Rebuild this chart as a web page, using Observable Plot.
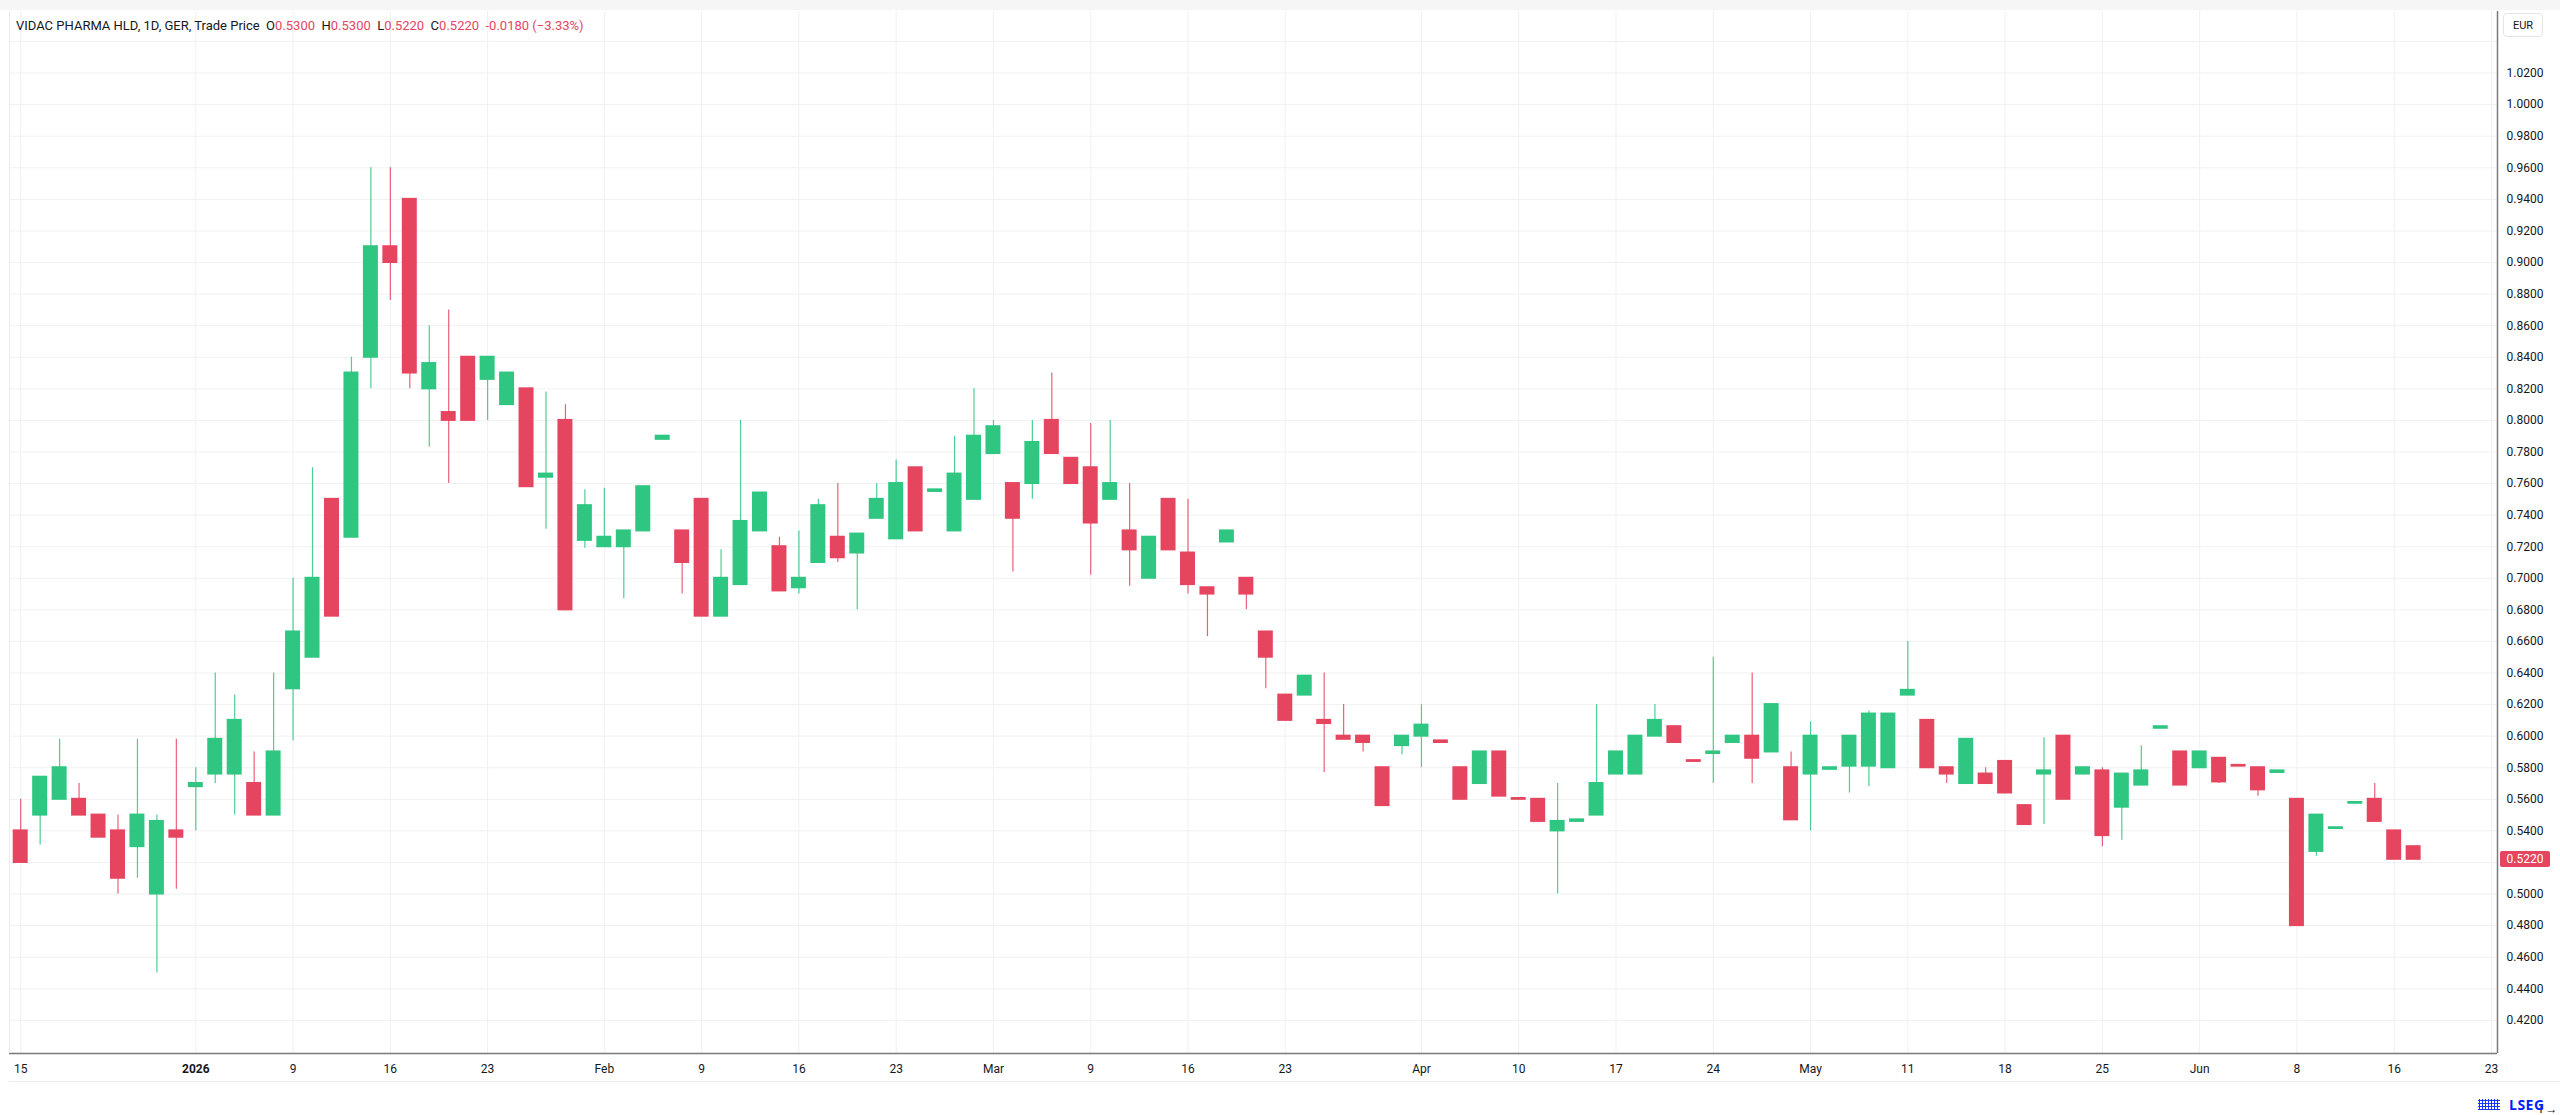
<!DOCTYPE html>
<html>
<head>
<meta charset="utf-8">
<script src="https://cdn.jsdelivr.net/npm/d3@7"></script>
<script src="https://cdn.jsdelivr.net/npm/@observablehq/plot@0.6"></script>
<style>
html, body { margin: 0; padding: 0; background: #fff; }
#wrap { position: relative; width: 2560px; height: 1115px; overflow: hidden; font-family: Roboto, "Noto Sans", sans-serif; background: #fff; }
#chart { position: absolute; left: 0; top: 0; }
#header { position: absolute; left: 16px; top: 18px; font-size: 13px; line-height: 16px; color: #131722; white-space: pre; }
#header .v { color: #e5455f; }
#eur { position: absolute; left: 2503px; top: 13px; width: 40px; height: 24px; border: 1px solid #e6e6e6; border-radius: 4px; font-size: 11px; line-height: 24px; text-align: center; color: #131722; box-sizing: border-box; }
#price { position: absolute; left: 2500px; width: 50px; height: 16px; background: #e5455f; color: #fff; font-size: 12px; line-height: 16px; text-align: center; border-radius: 2px; }
#logoicon { position: absolute; left: 2478px; top: 1099px; width: 22px; height: 11px; background-image: radial-gradient(circle, #001eff 55%, transparent 60%); background-size: 3px 3px; opacity: 0.9; }
#logotxt { position: absolute; left: 2509px; top: 1096px; font-family: "Open Sans", Roboto, sans-serif; font-weight: 700; font-size: 14px; line-height: 17px; color: #001eff; letter-spacing: 0.5px; white-space: nowrap; }
#topband { position: absolute; left: 0; top: 0; width: 2560px; height: 10px; background: #f6f6f6; }
#bottomline { position: absolute; left: 9px; top: 1081px; width: 2551px; height: 1px; background: #ececec; }
</style>
</head>
<body>
<div id="wrap">
  <div id="topband"></div>
  <div id="chart"></div>
  <div id="header"></div>
  <div id="eur">EUR</div>
  <div id="price"></div>
  <div id="bottomline"></div>
  <div id="logoicon"></div>
  <div id="logotxt">LSEG</div>
</div>
<script>
// ---- Data (daily candles, trading-day index 0 = 15 Dec 2025) ----
const opens = [
  0.54, 0.55, 0.56, 0.56, 0.55, 0.54, 0.53, 0.50, 0.54, 0.568,
  0.576, 0.576, 0.57, 0.55, 0.63, 0.65, 0.75, 0.726, 0.84, 0.91,
  0.94, 0.82, 0.805, 0.84, 0.826, 0.81, 0.82, 0.764, 0.80, 0.724,
  0.72, 0.72, 0.73, 0.788, 0.73, 0.75, 0.676, 0.696, 0.73, 0.72,
  0.694, 0.71, 0.726, 0.716, 0.738, 0.725, 0.77, 0.755, 0.73, 0.75,
  0.779, 0.76, 0.76, 0.80, 0.776, 0.77, 0.75, 0.73, 0.70, 0.75,
  0.716, 0.694, 0.723, 0.70, 0.666, 0.626, 0.626, 0.61, 0.60, 0.60,
  0.58, 0.594, 0.60, 0.597, 0.58, 0.57, 0.59, 0.5605, 0.56, 0.54,
  0.546, 0.55, 0.576, 0.576, 0.60, 0.606, 0.5845, 0.589, 0.596, 0.60,
  0.59, 0.58, 0.576, 0.579, 0.581, 0.581, 0.58, 0.626, 0.61, 0.58,
  0.57, 0.576, 0.584, 0.556, 0.576, 0.60, 0.576, 0.578, 0.555, 0.569,
  0.605, 0.59, 0.58, 0.586, 0.5815, 0.58, 0.577, 0.56, 0.527, 0.5415,
  0.5575, 0.56, 0.54, 0.53
];
const highs = [
  0.56, 0.574, 0.598, 0.57, 0.55, 0.55, 0.598, 0.55, 0.598, 0.58,
  0.64, 0.626, 0.59, 0.64, 0.70, 0.77, 0.75, 0.84, 0.96, 0.96,
  0.94, 0.86, 0.87, 0.84, 0.84, 0.83, 0.82, 0.818, 0.81, 0.756,
  0.757, 0.73, 0.758, 0.79, 0.73, 0.75, 0.718, 0.80, 0.754, 0.726,
  0.73, 0.75, 0.76, 0.728, 0.76, 0.775, 0.77, 0.756, 0.79, 0.82,
  0.80, 0.76, 0.80, 0.83, 0.776, 0.798, 0.80, 0.76, 0.726, 0.75,
  0.75, 0.694, 0.73, 0.70, 0.666, 0.626, 0.638, 0.64, 0.62, 0.60,
  0.58, 0.60, 0.62, 0.597, 0.58, 0.59, 0.59, 0.5605, 0.56, 0.57,
  0.547, 0.62, 0.59, 0.60, 0.62, 0.606, 0.5845, 0.65, 0.60, 0.64,
  0.62, 0.59, 0.609, 0.58, 0.60, 0.616, 0.614, 0.66, 0.61, 0.58,
  0.598, 0.58, 0.584, 0.556, 0.599, 0.60, 0.58, 0.58, 0.576, 0.594,
  0.606, 0.59, 0.59, 0.586, 0.5815, 0.58, 0.578, 0.56, 0.55, 0.542,
  0.558, 0.57, 0.54, 0.53
];
const lows = [
  0.52, 0.531, 0.56, 0.55, 0.536, 0.50, 0.51, 0.45, 0.503, 0.54,
  0.570, 0.55, 0.55, 0.55, 0.597, 0.65, 0.676, 0.726, 0.82, 0.876,
  0.82, 0.783, 0.76, 0.80, 0.80, 0.81, 0.758, 0.731, 0.68, 0.719,
  0.72, 0.687, 0.73, 0.788, 0.69, 0.676, 0.676, 0.696, 0.73, 0.692,
  0.69, 0.71, 0.71, 0.68, 0.738, 0.725, 0.73, 0.755, 0.73, 0.75,
  0.779, 0.704, 0.75, 0.779, 0.76, 0.702, 0.75, 0.695, 0.70, 0.718,
  0.69, 0.663, 0.723, 0.68, 0.63, 0.61, 0.626, 0.577, 0.598, 0.59,
  0.556, 0.588, 0.58, 0.596, 0.56, 0.57, 0.562, 0.56, 0.546, 0.50,
  0.546, 0.55, 0.576, 0.576, 0.60, 0.596, 0.584, 0.57, 0.596, 0.57,
  0.59, 0.547, 0.54, 0.579, 0.564, 0.568, 0.58, 0.626, 0.58, 0.57,
  0.57, 0.57, 0.564, 0.544, 0.544, 0.56, 0.576, 0.53, 0.534, 0.569,
  0.605, 0.569, 0.58, 0.57, 0.581, 0.562, 0.577, 0.48, 0.524, 0.5415,
  0.5575, 0.546, 0.522, 0.522
];
const closes = [
  0.52, 0.574, 0.58, 0.55, 0.536, 0.51, 0.55, 0.546, 0.536, 0.570,
  0.598, 0.61, 0.55, 0.59, 0.666, 0.70, 0.676, 0.83, 0.91, 0.90,
  0.83, 0.836, 0.80, 0.80, 0.84, 0.83, 0.758, 0.766, 0.68, 0.746,
  0.726, 0.73, 0.758, 0.79, 0.71, 0.676, 0.70, 0.736, 0.754, 0.692,
  0.70, 0.746, 0.713, 0.728, 0.75, 0.76, 0.73, 0.756, 0.766, 0.79,
  0.796, 0.738, 0.786, 0.779, 0.76, 0.735, 0.76, 0.718, 0.726, 0.718,
  0.696, 0.69, 0.73, 0.69, 0.65, 0.61, 0.638, 0.608, 0.598, 0.596,
  0.556, 0.60, 0.607, 0.596, 0.56, 0.59, 0.562, 0.56, 0.546, 0.546,
  0.547, 0.57, 0.59, 0.60, 0.61, 0.596, 0.584, 0.590, 0.60, 0.586,
  0.62, 0.547, 0.60, 0.58, 0.60, 0.614, 0.614, 0.629, 0.58, 0.576,
  0.598, 0.57, 0.564, 0.544, 0.578, 0.56, 0.58, 0.537, 0.576, 0.578,
  0.606, 0.569, 0.59, 0.571, 0.581, 0.566, 0.578, 0.48, 0.55, 0.542,
  0.558, 0.546, 0.522, 0.522
];

// x-axis ticks (trading-day index) and their labels
const xTickIndex  = [0, 9, 14, 19, 24, 30, 35, 40, 45, 50, 55, 60, 65, 72, 77, 82, 87, 92, 97, 102, 107, 112, 117, 122, 127];
const xTickLabels = ["15", "2026", "9", "16", "23", "Feb", "9", "16", "23", "Mar", "9", "16", "23", "Apr", "10", "17", "24", "May", "11", "18", "25", "Jun", "8", "16", "23"];
// y-axis grid and labelled ticks
const yGridValues = [0.42, 0.44, 0.46, 0.48, 0.50, 0.52, 0.54, 0.56, 0.58, 0.60, 0.62, 0.64, 0.66, 0.68, 0.70, 0.72, 0.74, 0.76, 0.78, 0.80, 0.82, 0.84, 0.86, 0.88, 0.90, 0.92, 0.94, 0.96, 0.98, 1.00, 1.02, 1.04];
const yLabelValues = [0.42, 0.44, 0.46, 0.48, 0.50, 0.54, 0.56, 0.58, 0.60, 0.62, 0.64, 0.66, 0.68, 0.70, 0.72, 0.74, 0.76, 0.78, 0.80, 0.82, 0.84, 0.86, 0.88, 0.90, 0.92, 0.94, 0.96, 0.98, 1.00, 1.02];

const header = {
  title: "VIDAC PHARMA HLD, 1D, GER, Trade Price",
  o: "0.5300", h: "0.5300", l: "0.5220", c: "0.5220", chg: "-0.0180 (\u22123.33%)"
};
const lastClose = 0.522;

const UP = "#2ec680", DOWN = "#e5455f";
const xDomain = [-0.576, 127.31];
const yDomain = [0.399, 1.059];

const candles = opens.map((o, i) => ({
  i, open: o, high: highs[i], low: lows[i], close: closes[i], up: closes[i] >= o
}));
const labelOf = new Map(xTickIndex.map((d, k) => [d, xTickLabels[k]]));
const halfBody = 0.385;

const plot = Plot.plot({
  width: 2560,
  height: 1115,
  marginTop: 11,
  marginBottom: 62,
  marginLeft: 9,
  marginRight: 63,
  style: { fontFamily: "Roboto, 'Noto Sans', sans-serif", fontSize: "12px", color: "#131722", background: "transparent" },
  x: { type: "linear", domain: xDomain, axis: null },
  y: { type: "linear", domain: yDomain, axis: null },
  marks: [
    Plot.ruleX(xTickIndex, { x: d => d, stroke: "#f0f1f3", strokeWidth: 1 }),
    Plot.ruleY(yGridValues, { y: d => d, stroke: "#f0f1f3", strokeWidth: 1 }),
    Plot.ruleX(candles, { x: "i", y1: "low", y2: "high", stroke: d => d.up ? UP : DOWN, strokeWidth: 1.2, strokeOpacity: 0.85 }),
    Plot.rect(candles, {
      x1: d => d.i - halfBody, x2: d => d.i + halfBody,
      y1: "open", y2: "close",
      fill: d => d.up ? UP : DOWN,
      insetTop: -1, insetBottom: -1
    }),
    Plot.axisX(xTickIndex, {
      tickSize: 0, tickPadding: 11, tickFormat: d => labelOf.get(d),
      fontSize: 12, fill: "#131722"
    }),
    Plot.axisY(yLabelValues, {
      anchor: "right", tickSize: 0, tickPadding: 9, tickFormat: d3.format(".4f"),
      fontSize: 12, fill: "#131722", textAnchor: "start"
    }),
    Plot.ruleX([xDomain[1]], { stroke: "#7a7a7a", strokeWidth: 1.5 }),
    Plot.ruleY([yDomain[0]], { stroke: "#7a7a7a", strokeWidth: 1.5 }),
    Plot.ruleX([xDomain[0]], { stroke: "#ececec", strokeWidth: 1 })
  ]
});
document.getElementById("chart").appendChild(plot);

// bold year label
d3.select(plot).selectAll("text").filter(function () { return this.textContent === "2026"; }).attr("font-weight", "bold");

// header
const hd = document.getElementById("header");
hd.innerHTML = `${header.title}  O<span class="v">${header.o}</span>  H<span class="v">${header.h}</span>  L<span class="v">${header.l}</span>  C<span class="v">${header.c}</span>  <span class="v">${header.chg}</span>`;

// last price label positioned with the chart's y scale
const yPos = plot.scale("y").apply(lastClose);
const pl = document.getElementById("price");
pl.textContent = d3.format(".4f")(lastClose);
pl.style.top = (yPos - 8) + "px";
</script>
</body>
</html>
